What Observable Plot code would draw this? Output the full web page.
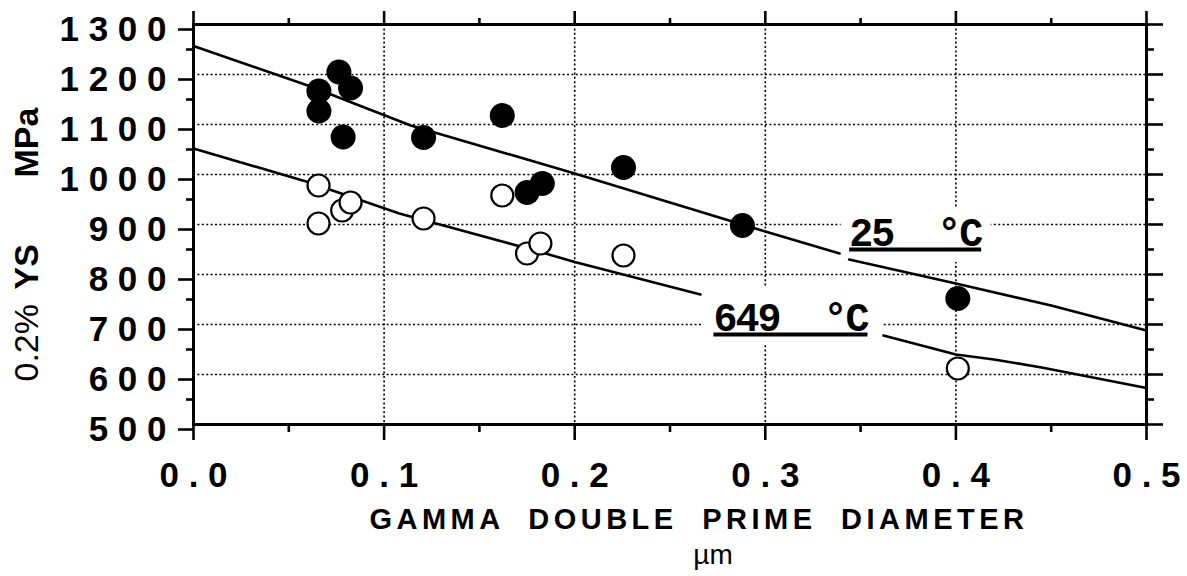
<!DOCTYPE html>
<html>
<head>
<meta charset="utf-8">
<script src="https://cdn.jsdelivr.net/npm/d3@7"></script>
<script src="https://cdn.jsdelivr.net/npm/@observablehq/plot@0.6"></script>
<style>
  body { margin: 0; background: #fff; }
</style>
</head>
<body>
<div id="chart"></div>
<script>
// ---- data ----
// 25 °C (filled circles)
const filledX = [0.0658, 0.0658, 0.0763, 0.0824, 0.0785, 0.1207, 0.162, 0.175, 0.183, 0.2256, 0.288, 0.401];
const filledY = [1167, 1127, 1205, 1173, 1075, 1074, 1118, 964, 982, 1014, 898, 752];
// 649 °C (open circles)
const openX = [0.0656, 0.0656, 0.078, 0.0824, 0.1207, 0.162, 0.175, 0.182, 0.2256, 0.401];
const openY = [978, 902, 928, 944, 912, 958, 842, 862, 838, 612];

// trend lines (hand-drawn in original, with gaps where labels sit)
const line25X   = [0, 0.06, 0.114, 0.2, 0.3, 0.339, 0.344, 0.4, 0.45, 0.5];
const line25Y   = [1257, 1178, 1098, 1002, 886, 842, 830, 782, 738, 688];
const line25Seg = [0, 0, 0, 0, 0, 0, 1, 1, 1, 1];
const line649X   = [0, 0.06, 0.108, 0.182, 0.2, 0.266, 0.362, 0.4, 0.42, 0.445, 0.5];
const line649Y   = [1052, 985, 922, 845, 825, 760, 678, 640, 630, 614, 573];
const line649Seg = [0, 0, 0, 0, 0, 0, 1, 1, 1, 1, 1];

// curve labels
const labelText = ["25\u00A0\u00A0°C", "649\u00A0\u00A0°C"];
const labelX = [0.344, 0.2728];
const labelY = [858, 688];

// ticks
const xTicks = [0, 0.1, 0.2, 0.3, 0.4, 0.5];
const xMinor = [0.05, 0.15, 0.25, 0.35, 0.45];
const yTicks = [500, 600, 700, 800, 900, 1000, 1100, 1200, 1300];
const yMinor = [550, 650, 750, 850, 950, 1050, 1150, 1250];
const xGrid = [0.1, 0.2, 0.3, 0.4];
const yGrid = [600, 700, 800, 900, 1000, 1100, 1200];

// titles
const xTitle = "GAMMA DOUBLE PRIME DIAMETER";
const xUnit = "µm";
const yTitleParts = ["0.2%", "YS", "MPa"];

// ---- tables built from the arrays ----
const filled = filledX.map((x, i) => ({x, y: filledY[i]}));
const open = openX.map((x, i) => ({x, y: openY[i]}));
const lines = [
  ...line25X.map((x, i) => ({x, y: line25Y[i], seg: "a" + line25Seg[i]})),
  ...line649X.map((x, i) => ({x, y: line649Y[i], seg: "b" + line649Seg[i]}))
];
const spaced = s => s.split("").join(" ");
const noText = () => "";

const tickStyle = {stroke: "black", strokeWidth: 2.6, label: null};

const chart = Plot.plot({
  width: 1187,
  height: 576,
  marginLeft: 193,
  marginRight: 41,
  marginTop: 24,
  marginBottom: 152,
  style: {
    background: "#fff",
    color: "black",
    fontFamily: "'Liberation Sans', Arial, sans-serif",
    fontSize: "35px",
    fontWeight: "bold"
  },
  x: {domain: [0, 0.5]},
  y: {domain: [500, 1300]},
  marks: [
    Plot.gridY(yGrid, {stroke: "black", strokeOpacity: 1, strokeWidth: 1.6, strokeDasharray: "2,2.4"}),
    Plot.gridX(xGrid, {stroke: "black", strokeOpacity: 1, strokeWidth: 1.6, strokeDasharray: "2,2.4"}),
    // white boxes behind curve labels
    Plot.rect([0], {x1: i => labelX[i], x2: i => labelX[i], y1: i => labelY[i], y2: i => labelY[i],
      insetLeft: -8, insetRight: -142, insetTop: -38, insetBottom: -17, fill: "white"}),
    Plot.rect([1], {x1: i => labelX[i], x2: i => labelX[i], y1: i => labelY[i], y2: i => labelY[i],
      insetLeft: -10, insetRight: -170, insetTop: -42, insetBottom: -13, fill: "white"}),
    Plot.line(lines, {x: "x", y: "y", z: "seg", stroke: "black", strokeWidth: 2.6}),
    Plot.dot(open, {x: "x", y: "y", r: 11, fill: "white", stroke: "black", strokeWidth: 2.2}),
    Plot.dot(filled, {x: "x", y: "y", r: 12.5, fill: "black"}),
    Plot.frame({stroke: "black", strokeWidth: 3}),
    // axes
    Plot.axisY(yTicks, {anchor: "left", tickSize: 15, tickPadding: 12, dy: 5, tickFormat: d => spaced(String(d)), ...tickStyle}),
    Plot.axisY(yMinor, {anchor: "left", tickSize: 7, tickFormat: noText, ...tickStyle}),
    Plot.axisY(yTicks, {anchor: "right", tickSize: 16, tickFormat: noText, ...tickStyle}),
    Plot.axisY(yMinor, {anchor: "right", tickSize: 7, tickFormat: noText, ...tickStyle}),
    Plot.axisX(xTicks, {anchor: "bottom", tickSize: 16, tickPadding: 22, tickFormat: d => spaced(d.toFixed(1)), ...tickStyle}),
    Plot.axisX(xMinor, {anchor: "bottom", tickSize: 8, tickFormat: noText, ...tickStyle}),
    Plot.axisX(xTicks, {anchor: "top", tickSize: 14, tickFormat: noText, ...tickStyle}),
    Plot.axisX(xMinor, {anchor: "top", tickSize: 7, tickFormat: noText, ...tickStyle}),
    // curve labels
    Plot.text(labelText, {x: (d, i) => labelX[i], y: (d, i) => labelY[i], text: d => d,
      textAnchor: "start", lineAnchor: "bottom", fontFamily: "'Liberation Mono', 'DejaVu Sans Mono', monospace",
      fontWeight: "bold", fontSize: 40, fill: "black"}),
    // axis titles
    Plot.text([xTitle], {frameAnchor: "bottom", dx: 29, dy: 95, lineAnchor: "middle", text: d => d,
      fontSize: 29, fontWeight: "bold"}),
    Plot.text([xUnit], {frameAnchor: "bottom", dx: 43, dy: 131, lineAnchor: "middle", text: d => d,
      fontSize: 28, fontWeight: "normal"}),
    Plot.text([yTitleParts[2]], {frameAnchor: "left", dx: -156, dy: -47, rotate: -90, lineAnchor: "bottom",
      text: d => d, fontSize: 34, fontWeight: "bold"}),
    Plot.text([yTitleParts[1]], {frameAnchor: "left", dx: -156, dy: 65, rotate: -90, lineAnchor: "bottom",
      text: d => d, fontSize: 34, fontWeight: "bold"}),
    Plot.text([yTitleParts[0]], {frameAnchor: "left", dx: -156, dy: 157, rotate: -90, lineAnchor: "bottom",
      text: d => d, fontSize: 34, fontWeight: "normal"})
  ]
});
document.getElementById("chart").appendChild(chart);
const svg = d3.select(chart);
svg.selectAll("text").filter(function() { return this.textContent === xTitle; })
  .attr("letter-spacing", 4.5).attr("word-spacing", 12);
svg.selectAll("text").filter(function() { return labelText.includes(this.textContent); })
  .attr("letter-spacing", -2).attr("text-decoration", "underline");
</script>
</body>
</html>
